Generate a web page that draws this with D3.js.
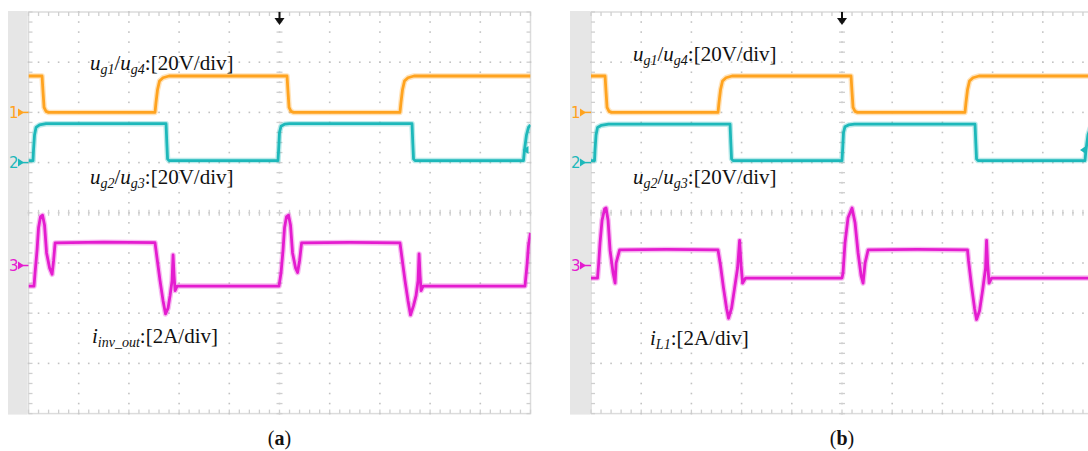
<!DOCTYPE html>
<html>
<head>
<meta charset="utf-8">
<script src="https://cdn.jsdelivr.net/npm/d3@7"></script>
<style>
  body { margin: 0; background: #fff; }
  svg { display: block; }
  .label { font-family: 'Liberation Serif', 'Times New Roman', serif; font-size: 21px; fill: #111; }
  .caption { font-family: 'Liberation Serif', 'Times New Roman', serif; font-size: 20px; fill: #111; }
  .marker { font-family: 'DejaVu Sans', sans-serif; font-size: 15px; }
</style>
</head>
<body>
<svg id="plot" width="1088" height="451"></svg>
<script>
// time is in screen divisions (10 across), levels in V (ch1, ch2) or A (ch3)
const ch1A = [[0,14.5],[0.27,14.5],[0.29,8],[0.31,2],[0.35,0.4],[0.4,0],[2.52,0],[2.54,4],[2.57,9],[2.61,12.5],[2.68,13.8],[2.8,14.5],[5.15,14.5],[5.17,8],[5.19,2],[5.23,0.4],[5.28,0],[7.4,0],[7.42,4],[7.45,9],[7.49,12.5],[7.56,13.8],[7.68,14.5],[10,14.5]]
const ch2A = [[0,0.8],[0.09,0.8],[0.1,5],[0.12,11],[0.15,14],[0.22,15],[0.35,15.5],[2.74,15.5],[2.755,8],[2.77,1.5],[2.8,0.8],[4.97,0.8],[4.985,6],[5,12],[5.03,14.5],[5.1,15.3],[5.2,15.5],[7.64,15.5],[7.655,8],[7.67,1.5],[7.7,0.8],[9.86,0.8],[9.88,5],[9.92,11],[9.96,14],[10,15]]
const ch3A = [[0,-0.82],[0.11,-0.82],[0.13,-0.3],[0.17,0.6],[0.2,1.5],[0.24,1.95],[0.28,2],[0.32,1.6],[0.36,0.5],[0.42,-0.1],[0.47,-0.35],[0.5,0.2],[0.53,0.9],[1.5,0.93],[2.52,0.91],[2.56,0.3],[2.62,-0.6],[2.68,-1.4],[2.73,-1.93],[2.78,-1.7],[2.82,-1.2],[2.86,-0.6],[2.88,0.42],[2.9,-0.4],[2.92,-1],[2.96,-0.82],[4.99,-0.82],[5.03,-0.3],[5.07,0.6],[5.1,1.5],[5.14,1.95],[5.18,2],[5.22,1.6],[5.26,0.5],[5.32,-0.1],[5.36,-0.28],[5.4,0.2],[5.44,0.9],[6.4,0.92],[7.4,0.9],[7.44,0.3],[7.5,-0.6],[7.56,-1.4],[7.61,-1.97],[7.67,-1.6],[7.72,-1.2],[7.76,-0.6],[7.78,0.46],[7.8,-0.4],[7.82,-1],[7.86,-0.82],[9.89,-0.82],[9.93,0],[9.96,0.8],[10,1.3]]

const ch1B = [[0,14.5],[0.28,14.5],[0.3,8],[0.32,2],[0.36,0.4],[0.41,0],[2.53,0],[2.55,4],[2.58,9],[2.62,12.5],[2.69,13.8],[2.81,14.5],[5.18,14.5],[5.2,8],[5.22,2],[5.26,0.4],[5.31,0],[7.45,0],[7.47,4],[7.5,9],[7.54,12.5],[7.61,13.8],[7.73,14.5],[10,14.5]]
const ch2B = [[0,0.8],[0.07,0.8],[0.08,5],[0.1,11],[0.13,14],[0.2,14.8],[0.35,15.3],[2.77,15.3],[2.785,8],[2.8,1.5],[2.83,0.8],[5,0.8],[5.015,6],[5.03,12],[5.06,14.3],[5.13,15],[5.25,15.3],[7.65,15.3],[7.665,8],[7.68,1.5],[7.71,0.8],[9.84,0.8],[9.86,5],[9.9,11],[9.95,14],[10,15]]
const ch3B = [[0,-0.5],[0.13,-0.5],[0.15,0],[0.18,0.9],[0.22,1.8],[0.27,2.25],[0.3,2.29],[0.34,1.8],[0.38,0.6],[0.44,-0.3],[0.48,-0.7],[0.5,0.1],[0.57,0.62],[1.5,0.64],[2.53,0.62],[2.58,0],[2.64,-0.9],[2.7,-1.7],[2.74,-2.1],[2.8,-1.7],[2.86,-0.9],[2.92,-0.1],[2.96,1],[2.99,0],[3.02,-0.7],[3.08,-0.5],[5,-0.5],[5.02,-0.3],[5.06,0.9],[5.12,1.9],[5.2,2.29],[5.26,1.7],[5.32,0.5],[5.38,-0.4],[5.42,-0.7],[5.46,0.1],[5.52,0.62],[6.5,0.64],[7.5,0.62],[7.52,0.2],[7.58,-0.8],[7.64,-1.7],[7.68,-2.15],[7.74,-1.8],[7.8,-1],[7.86,-0.1],[7.88,1],[7.9,0.1],[7.93,-0.7],[7.98,-0.5],[10,-0.5]]

const channelNames = ['1', '2', '3']
const channelColors = ['#ffa31f', '#1db8ba', '#e41ccf']
const unitsPerDiv = [20, 20, 2]
const groundDiv = [2, 1, -1.05]
const triggerLevel = 5   // ch2, volts

// label pieces: i = italic, s = italic subscript, r = roman
const labelsA = [
    [['u','i'],['g1','s'],['/','r'],['u','i'],['g4','s'],[':[20V/div]','r']]
  , [['u','i'],['g2','s'],['/','r'],['u','i'],['g3','s'],[':[20V/div]','r']]
  , [['i','i'],['inv_out','s'],[':[2A/div]','r']]
]
const labelsB = [
    [['u','i'],['g1','s'],['/','r'],['u','i'],['g4','s'],[':[20V/div]','r']]
  , [['u','i'],['g2','s'],['/','r'],['u','i'],['g3','s'],[':[20V/div]','r']]
  , [['i','i'],['L1','s'],[':[2A/div]','r']]
]
const captions = ['a', 'b']

const divPx = 50.2
    , plotTop = 12
    , panels =
        [ { x0: 28.5, strip: 8, traces: [ch1A, ch2A, ch3A], labels: labelsA, labelPos: [[90, 70], [90, 184], [92, 343]] }
        , { x0: 591, strip: 570, traces: [ch1B, ch2B, ch3B], labels: labelsB, labelPos: [[633, 61], [633, 184], [650, 345]] }
        ]
    , svg = d3.select('#plot')

const drawGrid = (g, sx, sy) => {
    const minor = d3.range(0, 10.001, 0.2)
        , minorY = d3.range(-4, 4.001, 0.2)
    g.append('rect')
        .attr('x', sx(0)).attr('y', sy(4))
        .attr('width', sx(10) - sx(0)).attr('height', sy(-4) - sy(4))
        .attr('fill', 'none').attr('stroke', '#dcdcdc').attr('stroke-width', 1.5)
    // dotted major lines
    d3.range(1, 10).forEach(i => {
        g.append('g').selectAll('rect')
            .data(minorY)
            .join('rect')
            .attr('x', sx(i) - 0.8).attr('y', d => sy(d) - 0.8)
            .attr('width', 1.6).attr('height', 1.6)
            .attr('fill', '#c2c2c2')
    })
    d3.range(-3, 4).forEach(j => {
        g.append('g').selectAll('rect')
            .data(minor)
            .join('rect')
            .attr('x', d => sx(d) - 0.8).attr('y', sy(j) - 0.8)
            .attr('width', 1.6).attr('height', 1.6)
            .attr('fill', '#c2c2c2')
    })
    // centre crosshair and edge ticks
    const tick = (x1, y1, x2, y2) => g.append('line')
        .attr('x1', x1).attr('y1', y1).attr('x2', x2).attr('y2', y2)
        .attr('stroke', '#cfcfcf').attr('stroke-width', 1.3)
    minorY.forEach(d => {
        tick(sx(5) - 3, sy(d), sx(5) + 3, sy(d))
        tick(sx(0), sy(d), sx(0) + 4, sy(d))
        tick(sx(10) - 4, sy(d), sx(10), sy(d))
    })
    minor.forEach(d => {
        tick(sx(d), sy(0) - 3, sx(d), sy(0) + 3)
        tick(sx(d), sy(4), sx(d), sy(4) + 4)
        tick(sx(d), sy(-4) - 4, sx(d), sy(-4))
    })
}

const drawLabel = (g, pieces, [x, y]) => {
    const text = g.append('text').attr('class', 'label').attr('x', x).attr('y', y)
    let shifted = false
    pieces.forEach(([t, s]) => {
        const span = text.append('tspan').text(t)
        if (s === 's') {
            span.attr('font-style', 'italic').attr('font-size', 14).attr('dy', shifted ? 0 : 4)
            shifted = true
        } else {
            if (s === 'i') span.attr('font-style', 'italic')
            if (shifted) span.attr('dy', -4)
            shifted = false
        }
    })
}

const drawPanel = (p, k) => {
    const sx = d3.scaleLinear().domain([0, 10]).range([p.x0, p.x0 + 10 * divPx])
        , sy = d3.scaleLinear().domain([4, -4]).range([plotTop, plotTop + 8 * divPx])
        , g = svg.append('g')
    g.append('rect')
        .attr('x', p.strip).attr('y', sy(4) - 1)
        .attr('width', sx(0) - p.strip - 1).attr('height', sy(-4) - sy(4) + 2)
        .attr('fill', '#e6e6e6')
    drawGrid(g, sx, sy)

    const clipId = `clip-${k}`
    g.append('clipPath').attr('id', clipId)
        .append('rect')
        .attr('x', sx(0)).attr('y', sy(4))
        .attr('width', sx(10) - sx(0)).attr('height', sy(-4) - sy(4))
    const traces = g.append('g').attr('clip-path', `url(#${clipId})`)
    p.traces.forEach((data, ch) => {
        const line = d3.line()
            .x(d => sx(d[0]))
            .y(d => sy(groundDiv[ch] + d[1] / unitsPerDiv[ch]))
        traces.append('path')
            .attr('d', line(data))
            .attr('fill', 'none')
            .attr('stroke', channelColors[ch])
            .attr('stroke-opacity', 0.3)
            .attr('stroke-width', 5.5)
            .attr('stroke-linejoin', 'round')
        traces.append('path')
            .attr('d', line(data))
            .attr('fill', 'none')
            .attr('stroke', channelColors[ch])
            .attr('stroke-width', 2.8)
            .attr('stroke-linejoin', 'round')

        // channel ground marker in the side strip
        const gy = sy(groundDiv[ch])
        g.append('text')
            .attr('class', 'marker')
            .attr('x', p.strip + 1).attr('y', gy + 5.5)
            .attr('fill', channelColors[ch])
            .text(channelNames[ch])
        g.append('path')
            .attr('d', `M${p.strip + 10},${gy - 4}L${p.strip + 16},${gy}L${p.strip + 10},${gy + 4}Z`)
            .attr('fill', channelColors[ch])
        g.append('line')
            .attr('x1', p.strip + 14).attr('x2', sx(0)).attr('y1', gy).attr('y2', gy)
            .attr('stroke', channelColors[ch]).attr('stroke-width', 1.5)
    })

    // trigger level marker on the right edge
    const ty = sy(groundDiv[1] + triggerLevel / unitsPerDiv[1])
        , tx = Math.min(sx(10), 1088) - 2
    g.append('path')
        .attr('d', `M${tx},${ty - 4}L${tx - 6},${ty}L${tx},${ty + 4}Z`)
        .attr('fill', channelColors[1])

    // trigger position arrow
    const ax = sx(5)
    g.append('rect')
        .attr('x', ax - 1).attr('y', sy(4))
        .attr('width', 2).attr('height', 8)
        .attr('fill', '#111')
    g.append('path')
        .attr('d', `M${ax - 5},${sy(4) + 6}L${ax + 5},${sy(4) + 6}L${ax},${sy(4) + 13}Z`)
        .attr('fill', '#111')

    p.labels.forEach((pieces, i) => drawLabel(g, pieces, p.labelPos[i]))

    const cap = svg.append('text')
        .attr('class', 'caption')
        .attr('x', sx(5)).attr('y', 445)
        .attr('text-anchor', 'middle')
    cap.append('tspan').text('(')
    cap.append('tspan').attr('font-weight', 'bold').text(captions[k])
    cap.append('tspan').text(')')
}

panels.forEach(drawPanel)
</script>
</body>
</html>
